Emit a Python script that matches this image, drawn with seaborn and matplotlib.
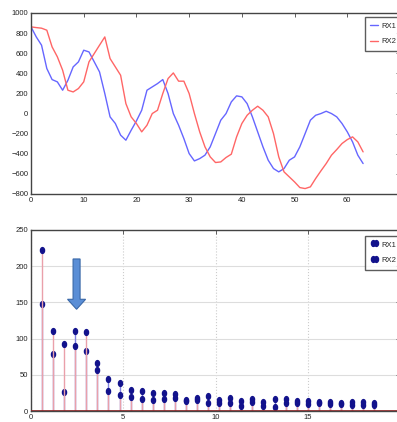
import numpy as np
import pandas as pd
import matplotlib
matplotlib.use("Agg")
import matplotlib.pyplot as plt
from matplotlib.patches import FancyArrow
from matplotlib.markers import MarkerStyle
from matplotlib.transforms import Affine2D
import seaborn as sns

# ---- data ----
sample = list(range(64))
rx1_time = [862, 762, 680, 448, 338, 315, 232, 331, 464, 514, 630, 613, 514, 414, 199, -33,
            -99, -215, -265, -166, -73, 33, 232, 265, 298, 338, 199, 0, -116, -249, -398, -471,
            -448, -414, -331, -199, -66, 0, 116, 176, 166, 99, -33, -182, -331, -464, -547, -580,
            -547, -464, -431, -331, -199, -66, -17, 0, 23, 0, -33, -99, -182, -282, -414, -497]
rx2_time = [862, 855, 849, 829, 663, 564, 431, 232, 215, 249, 315, 514, 597, 680, 762, 547,
            464, 381, 99, -33, -99, -182, -116, 0, 33, 199, 348, 404, 322, 322, 199, 0,
            -182, -331, -431, -487, -481, -437, -404, -232, -99, -17, 33, 73, 33, -33, -199, -431,
            -580, -630, -680, -736, -746, -729, -646, -570, -497, -414, -358, -298, -259, -232, -282, -381]

freq = [0.6, 1.2, 1.8, 2.4, 3.0, 3.6, 4.2, 4.8, 5.4, 6.0, 6.6, 7.2, 7.8, 8.4, 9.0, 9.6,
        10.2, 10.8, 11.4, 12.0, 12.6, 13.2, 13.8, 14.4, 15.0, 15.6, 16.2, 16.8, 17.4, 18.0, 18.6]
rx1_mag = [148, 79, 26, 111, 83, 66, 44, 39, 29, 27, 25, 25, 23, 15, 17.5, 21,
           15, 18, 14, 17, 12, 16.5, 17, 14, 14, 12.5, 12.5, 11.5, 12, 13, 11.5]
rx2_mag = [222, 111, 92, 90, 109, 57, 28, 22, 20, 17, 15, 16, 18, 14, 15, 11.5,
           11.5, 11, 7, 13, 6.5, 6, 11.5, 11.5, 10, 10.5, 9.5, 9.5, 8.5, 8.5, 8.5]

labels = ["RX1", "RX2"]
top_yticks = [-800, -600, -400, -200, 0, 200, 400, 600, 800, 1000]
top_xticks = [0, 10, 20, 30, 40, 50, 60]
bot_yticks = [0, 50, 100, 150, 200, 250]
bot_xticks = [0, 5, 10, 15]

# ---- style ----
sns.set_style("white")
plt.rcParams['font.family'] = ['Liberation Sans Narrow', 'Liberation Sans', 'DejaVu Sans']
plt.rcParams['font.size'] = 6

W, H = 397, 422
fig = plt.figure(figsize=(W / 100, H / 100), dpi=100)
fig.patch.set_facecolor('white')

def px_axes(left, top, right, bottom):
    return fig.add_axes([left / W, 1 - bottom / H, (right - left) / W, (bottom - top) / H])

ax1 = px_axes(31, 13, 400, 194)
ax2 = px_axes(31, 230, 400, 411)

leg_kw = dict(fontsize=5.5, frameon=True, fancybox=False, edgecolor="#333333",
              handletextpad=0.4, borderpad=0.7, labelspacing=1.1,
              borderaxespad=0.0)

# ---- top: time series ----
df = pd.DataFrame({"sample": sample + sample,
                   "value": rx1_time + rx2_time,
                   "rx": [labels[0]] * 64 + [labels[1]] * 64})
sns.lineplot(data=df, x="sample", y="value", hue="rx",
             palette={labels[0]: (0.4, 0.4, 1.0), labels[1]: (1.0, 0.4, 0.4)},
             linewidth=1.0, ax=ax1)
ax1.set_xlim(0, 70)
ax1.set_ylim(-800, 1000)
ax1.set_xticks(top_xticks)
ax1.set_yticks(top_yticks)
ax1.set_xlabel("")
ax1.set_ylabel("")
ax1.legend(loc="upper left", bbox_to_anchor=(0.905, 0.978), handlelength=1.0, **leg_kw)

# ---- bottom: stem spectrum ----
ell = MarkerStyle("o", transform=Affine2D().scale(0.7, 1.0))
for vals, lab, lc in [(rx1_mag, labels[0], "#8080e0"), (rx2_mag, labels[1], "#eaa0aa")]:
    m, s, b = ax2.stem(freq, vals, label=lab, basefmt=" ")
    s.set_color(lc)
    s.set_linewidth(1.0)
    m.set_marker(ell)
    m.set_color("#12128c")
    m.set_markersize(4.2)
    m.set_markeredgecolor("#12128c")
ax2.axhline(0, color="#8b2525", lw=1.2, zorder=3)
ax2.set_xlim(0, 20)
ax2.set_ylim(0, 250)
ax2.set_xticks(bot_xticks)
ax2.set_yticks(bot_yticks)
ax2.yaxis.grid(True, color="#dddddd", lw=0.8, ls="-")
ax2.xaxis.grid(True, color="#cccccc", lw=0.8, ls=":")
ax2.set_axisbelow(True)
ax2.legend(loc="upper left", bbox_to_anchor=(0.906, 0.967), numpoints=2,
           handlelength=1.0, markerscale=0.7, **leg_kw)

ax2.add_patch(FancyArrow(2.47, 210, 0, -69.5, width=0.38, head_width=0.98,
                         head_length=13.8, length_includes_head=True,
                         facecolor="#5a8ed6", edgecolor="#3a68a8", lw=0.8, zorder=5))

for ax in (ax1, ax2):
    for sp in ax.spines.values():
        sp.set_color("#444444")
        sp.set_linewidth(1.0)
    ax.tick_params(direction="in", length=3, width=0.6, colors="#444444",
                   labelcolor="#222222", labelsize=5.5, top=True, right=True, pad=2)

fig.savefig("out.png", dpi=100, facecolor="white")
